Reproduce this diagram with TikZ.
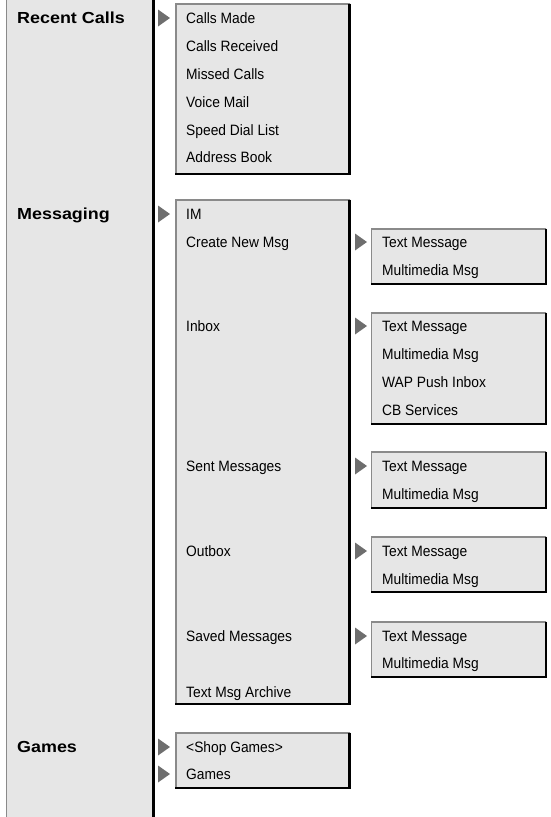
\documentclass[tikz,border=0pt]{standalone}
\usepackage{fontspec}
\setmainfont{Liberation Sans}[FakeStretch=0.92]
\newfontfamily\headfont{Liberation Sans}[FakeStretch=1.12]
\definecolor{boxfill}{HTML}{E6E6E6}
\definecolor{boxgray}{HTML}{8A8A8A}
\definecolor{trigray}{HTML}{6E6E6E}
\tikzset{
  menutext/.style={anchor=base west, inner sep=0pt, font=\fontsize{15}{17}\selectfont},
  headtext/.style={anchor=base west, inner sep=0pt, font=\headfont\fontsize{16}{18}\selectfont\bfseries},
  grayedge/.style={boxgray, line width=1.5pt},
  blackedge/.style={black, line width=2.6pt},
}
\newcommand{\menubox}[4]{% x1 y1 x2 y2
  \fill[boxfill] (#1,#2) rectangle (#3,#4);
  \draw[grayedge] (#1,#4) -- (#1,#2) -- (#3,#2);
  \draw[blackedge] (#3,#2-0.5) -- (#3,#4) -- (#1-0.75,#4);
}
\newcommand{\pointer}[2]{% left x, center y
  \fill[trigray] (#1,#2-8.5) -- (#1+12,#2) -- (#1,#2+8.5) -- cycle;
}
\begin{document}
\begin{tikzpicture}[x=1pt,y=-1pt]
\useasboundingbox (0,0) rectangle (550,817);
% left column
\fill[boxfill] (6,0) rectangle (153,817);
\draw[grayedge] (6.5,0) -- (6.5,817);
\draw[black, line width=3pt] (153.5,0) -- (153.5,817);
\node[headtext] (rc) at (17,23.5) {Recent Calls};
\node[headtext] (msg) at (17,219.5) {Messaging};
\node[headtext] (gm) at (17,752.5) {Games};

% level-1 boxes
\menubox{176}{4}{349.5}{174}
\menubox{176}{200}{349.5}{704}
\menubox{176}{733}{349.5}{788}

\pointer{158}{18}
\pointer{158}{214}
\pointer{158}{747}
\pointer{158}{774}

% Recent Calls items
\node[menutext] (r1) at (186,23.5) {Calls Made};
\node[menutext] (r2) at (186,51.5) {Calls Received};
\node[menutext] (r3) at (186,79.5) {Missed Calls};
\node[menutext] (r4) at (186,107.5) {Voice Mail};
\node[menutext] (r5) at (186,135.5) {Speed Dial List};
\node[menutext] (r6) at (186,162.5) {Address Book};

% Messaging items
\node[menutext] (m1) at (186,219.5) {IM};
\node[menutext] (m2) at (186,247.5) {Create New Msg};
\node[menutext] (m3) at (186,331.5) {Inbox};
\node[menutext] (m4) at (186,471.5) {Sent Messages};
\node[menutext] (m5) at (186,556.5) {Outbox};
\node[menutext] (m6) at (186,641.5) {Saved Messages};
\node[menutext] (m7) at (186,697.5) {Text Msg Archive};

% Games items
\node[menutext] (g1) at (186,752.5) {<Shop Games>};
\node[menutext] (g2) at (186,779.5) {Games};

% level-2 boxes
\menubox{371.5}{229}{546}{284}
\menubox{371.5}{313}{546}{424}
\menubox{371.5}{452}{546}{508}
\menubox{371.5}{537}{546}{592}
\menubox{371.5}{622}{546}{677}

\pointer{355}{242}
\pointer{355}{326}
\pointer{355}{466}
\pointer{355}{551}
\pointer{355}{636}

\node[menutext] (c1) at (382,247.5) {Text Message};
\node[menutext] (c2) at (382,275.5) {Multimedia Msg};

\node[menutext] (i1) at (382,331.5) {Text Message};
\node[menutext] (i2) at (382,359.5) {Multimedia Msg};
\node[menutext] (i3) at (382,387.5) {WAP Push Inbox};
\node[menutext] (i4) at (382,415.5) {CB Services};

\node[menutext] (s1) at (382,471.5) {Text Message};
\node[menutext] (s2) at (382,499.5) {Multimedia Msg};

\node[menutext] (o1) at (382,556.5) {Text Message};
\node[menutext] (o2) at (382,584.5) {Multimedia Msg};

\node[menutext] (v1) at (382,641.5) {Text Message};
\node[menutext] (v2) at (382,668.5) {Multimedia Msg};
\end{tikzpicture}
\end{document}
